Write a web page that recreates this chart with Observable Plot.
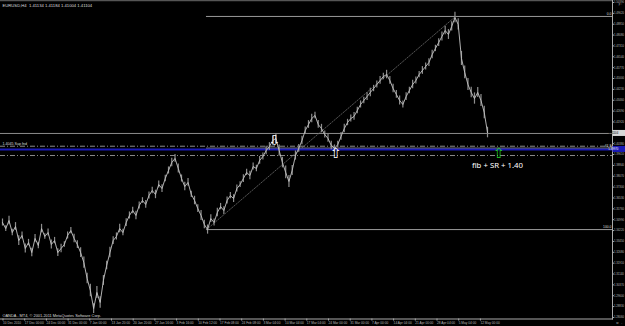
<!DOCTYPE html>
<html>
<head>
<meta charset="utf-8">
<script src="https://cdn.jsdelivr.net/npm/d3@7"></script>
<script src="https://cdn.jsdelivr.net/npm/@observablehq/plot@0.6"></script>
<style>
  html, body { margin: 0; padding: 0; background: #000; }
  #chart { width: 625px; height: 326px; overflow: hidden; }
  svg { display: block; }
</style>
</head>
<body>
<div id="chart"></div>
<script>
// ---- data ----
const symbolHeader = "EURUSD,H4  1.41134 1.41184 1.41004 1.41104";
const copyright = "OANDA - MT4, © 2001-2011 MetaQuotes Software Corp.";
const annotation = "fib + SR + 1.40";
const srLabel = "1.4045 Sup fnd";

// date labels, one per week on the time axis
const dateLabels = ["10 Dec 2010","17 Dec 00:00","24 Dec 00:00","31 Dec 00:00","7 Jan 00:00","13 Jan 20:00",
  "20 Jan 20:00","27 Jan 16:00","3 Feb 16:00","10 Feb 12:00","17 Feb 08:00","24 Feb 08:00","3 Mar 04:00",
  "10 Mar 04:00","17 Mar 04:00","24 Mar 00:00","31 Mar 00:00","7 Apr 00:00","14 Apr 04:00","21 Apr 00:00",
  "28 Apr 04:00","5 May 04:00","12 May 00:00"];

// price axis ticks
const priceTicks = [1.5039,1.4962,1.4885,1.4808,1.4731,1.4654,1.4577,1.4500,1.4423,1.4346,1.4269,1.4192,
  1.4115,1.4038,1.3961,1.3884,1.3807,1.3730,1.3653,1.3576,1.3499,1.3422,1.3345,1.3268,1.3191,1.3114,
  1.3037,1.2960,1.2883,1.2806];

// EURUSD H4 closes, sampled every 0.15 week
const closes = [
  1.3479,1.3436,1.3493,1.3408,1.3451, 1.3351,1.3387,1.3295,1.3337,1.3266,
  1.3366,1.3316,1.3436,1.3380,1.3408, 1.3323,1.3351,1.3266,1.3295,1.3323,
  1.3387,1.3422,1.3366,1.3323,1.3266, 1.3195,1.3082,1.2997,1.2869,1.2983,
  1.2912,1.3068,1.3174,1.3266,1.3351, 1.3380,1.3436,1.3408,1.3479,1.3529,
  1.3564,1.3529,1.3600,1.3635,1.3607, 1.3670,1.3706,1.3678,1.3748,1.3720,
  1.3791,1.3848,1.3904,1.3933,1.3862, 1.3791,1.3734,1.3763,1.3678,1.3635,
  1.3578,1.3529,1.3465,1.3429,1.3507, 1.3479,1.3550,1.3592,1.3564,1.3635,
  1.3670,1.3649,1.3720,1.3748,1.3791, 1.3834,1.3812,1.3876,1.3862,1.3919,
  1.3947,1.3989,1.4018,1.4060,1.4075, 1.3989,1.3904,1.3834,1.3770,1.3848,
  1.3954,1.4004,1.4060,1.4131,1.4174, 1.4216,1.4238,1.4174,1.4145,1.4103,
  1.4075,1.4025,1.4004,1.4032,1.4089, 1.4145,1.4188,1.4216,1.4231,1.4273,
  1.4316,1.4344,1.4372,1.4401,1.4429, 1.4457,1.4486,1.4514,1.4528,1.4486,
  1.4429,1.4387,1.4344,1.4316,1.4372, 1.4415,1.4457,1.4486,1.4528,1.4557,
  1.4585,1.4613,1.4670,1.4713,1.4755, 1.4798,1.4840,1.4812,1.4869,1.4932,
  1.4883,1.4642,1.4543,1.4457,1.4401, 1.4358,1.4401,1.4344,1.4259,1.4117
];
// visible high-low extent of the bars around each sample, in pips
const barRangePips = [
  50,40,60,45,55,70,50,65,45,60, 55,45,60,40,50,65,45,55,60,40,
  50,45,60,55,70,80,75,90,70,85, 80,70,60,75,55,50,60,45,55,50,
  45,60,50,40,55,50,45,60,50,55, 45,50,60,55,65,50,60,55,45,60,
  55,70,60,65,55,50,60,45,55,50, 45,55,50,40,55,45,60,50,45,55,
  50,60,55,65,70,80,75,90,85,70, 65,55,60,50,55,60,45,55,60,50,
  55,60,50,45,55,60,45,50,55,45, 50,45,55,60,45,50,55,45,60,55,
  60,55,65,50,55,45,60,50,45,55, 50,55,60,45,55,65,60,70,65,75,
  80,100,90,85,75,80,70,85,90,75
];
const sampleWeek = 0.15;

// levels
const bidPrice = 1.41104;
const srLevel = 1.3997;        // blue support/resistance line
const dashLevels = [1.4020, 1.3954];
const fibStartWeek = 9.40, fibLow = 1.3429;
const fibEndWeek = 20.88, fibHigh = 1.4940;
const fibRatios = [0, 61.8, 100];

// arrows
const arrowWeeks = [12.53, 15.35, 22.86];
const arrowPrices = [1.4060, 1.3966, 1.3966];
const arrowGlyphs = ["⇩", "⇧", "⇧"];
const arrowColors = ["#ffffff", "#ffffff", "#22cc22"];
const annotationWeek = 22.81, annotationPrice = 1.3880;

// ---- derived tables ----
const series = closes.map((p, i) => ({w: i * sampleWeek, p, r: barRangePips[i] / 10000}));
const fibLevels = fibRatios.map(r => ({r, p: fibHigh - (r / 100) * (fibHigh - fibLow)}));
const arrows = arrowWeeks.map((w, i) => ({w, p: arrowPrices[i], g: arrowGlyphs[i], c: arrowColors[i]}));
const shownTicks = priceTicks.filter(t => Math.abs(t - bidPrice) > 0.0028);

const xDomain = [-0.092, 28.11];
const yDomain = [1.2795, 1.5053];
const font = "'Liberation Sans', Arial, sans-serif";

const plot = Plot.plot({
  width: 625, height: 326,
  marginLeft: 0, marginRight: 13, marginTop: 0, marginBottom: 7.5,
  style: {background: "#000", color: "#bbb", fontFamily: font},
  x: {domain: xDomain, axis: null},
  y: {domain: yDomain, axis: null},
  marks: [
    Plot.frame({anchor: "top", stroke: "#555", strokeWidth: 1.5}),
    // dash-dot levels
    Plot.ruleY(dashLevels, {stroke: "#8a8a8a", strokeWidth: 1, strokeDasharray: "5,2,1,2"}),
    // bid line
    Plot.ruleY([bidPrice], {stroke: "#8c8c8c", strokeWidth: 1}),
    // fib levels
    Plot.ruleY(fibLevels, {y: "p", x1: fibStartWeek, x2: xDomain[1], stroke: "#9a9a9a", strokeWidth: 1}),
    Plot.text(fibLevels, {y: "p", x: xDomain[1], text: d => d.r.toFixed(1), textAnchor: "end", dx: -1, dy: -2.5,
      fontSize: 3.4, fill: "#ddd"}),
    // fib trend line
    Plot.line([{w: fibStartWeek, p: fibLow}, {w: fibEndWeek, p: fibHigh}], {x: "w", y: "p",
      stroke: "#6a6a6a", strokeWidth: 0.8, strokeDasharray: "1.5,1.5"}),
    // blue SR line
    Plot.ruleY([srLevel], {stroke: "#1a1ab8", strokeWidth: 2}),
    Plot.text([srLabel], {x: xDomain[0], y: dashLevels[0], text: d => d, textAnchor: "start", dx: 2, dy: -2.5,
      fontSize: 3.6, fill: "#ddd"}),
    // price bars + close line
    Plot.ruleX(series, {x: "w", y1: d => d.p - d.r / 2, y2: d => d.p + d.r / 2, stroke: "#8e8e8e", strokeWidth: 1.2}),
    Plot.line(series, {x: "w", y: "p", stroke: "#c4c4c4", strokeWidth: 0.9}),
    // arrows
    Plot.text(arrows, {x: "w", y: "p", text: "g", fill: "c", fontSize: 14, fontFamily: "DejaVu Sans"}),
    Plot.text([annotation], {x: annotationWeek, y: annotationPrice, text: d => d, fill: "#fff",
      fontSize: 7.8, fontFamily: "'Noto Sans', sans-serif"}),
    // header / footer texts
    Plot.text([symbolHeader], {frameAnchor: "top-left", text: d => d, dx: 2, dy: 3.5, fontSize: 4.2, fill: "#ddd", textAnchor: "start"}),
    Plot.text([copyright], {frameAnchor: "bottom-left", text: d => d, dx: 2, dy: -2, fontSize: 3.9, fill: "#ddd", textAnchor: "start"}),
    // axes
    Plot.axisY({anchor: "right", ticks: shownTicks, tickFormat: d => d.toFixed(5), tickSize: 1, tickPadding: 0.5,
      fontSize: 2.75, stroke: "#aaa", fill: "#bbb"}),
    Plot.axisX({anchor: "bottom", ticks: d3.range(dateLabels.length), tickFormat: i => dateLabels[i],
      textAnchor: "start", tickSize: 2, tickPadding: 1, dx: 0.5, fontSize: 3.2, stroke: "#aaa", fill: "#bbb"}),
    Plot.frame({anchor: "right", stroke: "#aaa"}),
    Plot.frame({anchor: "bottom", stroke: "#aaa"})
  ]
});
document.getElementById("chart").appendChild(plot);

// price boxes on the right axis, positioned with the plot's own y scale
const ys = plot.scale("y");
const svg = d3.select(plot);
[{p: bidPrice, bg: "#d8d8d8", fg: "#000"}, {p: srLevel, bg: "#1a1ab8", fg: "#fff"}].forEach(b => {
  const y = ys.apply(b.p);
  const g = svg.append("g");
  g.append("rect").attr("x", 612.5).attr("y", y - 3).attr("width", 12.5).attr("height", 6).attr("fill", b.bg);
  g.append("text").attr("x", 613.3).attr("y", y).attr("dy", "0.35em").attr("font-size", 2.75)
    .attr("font-family", font).attr("fill", b.fg).text(b.p.toFixed(5));
});
</script>
</body>
</html>
